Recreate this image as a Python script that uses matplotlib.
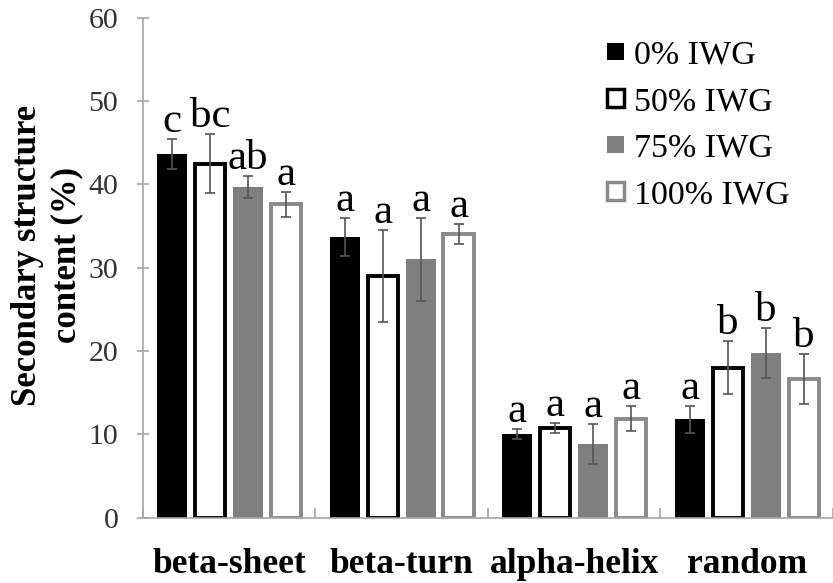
import numpy as np
import matplotlib
matplotlib.use('Agg')
import matplotlib.pyplot as plt
from matplotlib.patches import Patch

# ---- data ----
categories = ['beta-sheet', 'beta-turn', 'alpha-helix', 'random']
series = ['0% IWG', '50% IWG', '75% IWG', '100% IWG']

v_0 = [43.7, 33.7, 10.1, 11.8]
v_50 = [42.5, 29.0, 10.8, 18.0]
v_75 = [39.7, 31.0, 8.9, 19.8]
v_100 = [37.6, 34.1, 11.9, 16.6]

e_0 = [1.8, 2.3, 0.6, 1.6]
e_50 = [3.5, 5.5, 0.6, 3.2]
e_75 = [1.3, 5.0, 2.4, 3.0]
e_100 = [1.5, 1.2, 1.5, 3.0]

let_0 = ['c', 'a', 'a', 'a']
let_50 = ['bc', 'a', 'a', 'b']
let_75 = ['ab', 'a', 'a', 'b']
let_100 = ['a', 'a', 'a', 'b']

values = [v_0, v_50, v_75, v_100]
errors = [e_0, e_50, e_75, e_100]
letters = [let_0, let_50, let_75, let_100]

# bar styles: (face, edge)
styles = [('black', 'black'), ('white', 'black'),
          ('#7f7f7f', '#7f7f7f'), ('white', '#8a8a8a')]

plt.rcParams['font.family'] = ['Liberation Serif', 'DejaVu Serif']

fig = plt.figure(figsize=(8.33, 5.83), dpi=100)
ax = fig.add_axes([0.1713, 0.112, 0.8287, 0.8576])

x = np.arange(len(categories))
offsets = [-0.33, -0.11, 0.11, 0.33]
width = 0.174

for i in range(4):
    face, edge = styles[i]
    lw = 0 if face == edge else 2.8
    ax.bar(x + offsets[i], values[i], width, color=face, edgecolor=edge,
           linewidth=lw, zorder=2)
    ax.errorbar(x + offsets[i], values[i], yerr=errors[i], fmt='none',
                ecolor='#555555', elinewidth=1.2, capsize=3.5, capthick=1.2,
                zorder=3)
    for j in range(len(categories)):
        ax.annotate(letters[i][j], (x[j] + offsets[i], values[i][j] + errors[i][j]),
                    xytext=(0, 5), textcoords='offset points',
                    ha='center', va='baseline', fontsize=31, color='black')

ax.set_xlim(-0.5, 3.5)
ax.set_ylim(0, 60)
ax.set_yticks(np.arange(0, 61, 10))
ax.set_xticks(x)
ax.set_xticklabels(categories, fontsize=25.5, fontweight='bold')
ax.set_xticks(np.arange(-0.5, 3.6, 1), minor=True)

for s in ['top', 'right']:
    ax.spines[s].set_visible(False)
for s in ['left', 'bottom']:
    ax.spines[s].set_color('#a6a6a6')
    ax.spines[s].set_linewidth(1.2)

ax.tick_params(axis='y', direction='inout', length=9, width=1.2,
               color='#a6a6a6', labelsize=21.5, labelcolor='#333333', pad=13)
ax.tick_params(axis='x', which='major', length=0, pad=22)
ax.tick_params(axis='x', which='minor', direction='in', length=7, width=1.2,
               color='#a6a6a6')

fig.text(47 / 833, 1 - 255 / 583, 'Secondary structure\ncontent (%)',
         rotation=90, ha='center', va='center', multialignment='center',
         fontsize=25, fontweight='bold', linespacing=1.25)

handles = [Patch(facecolor=f, edgecolor=e, linewidth=(0 if f == e else 2.5))
           for f, e in styles]
ax.legend(handles, series, loc='upper left', bbox_to_anchor=(0.672, 0.955),
          frameon=False, fontsize=24.5, borderpad=0, borderaxespad=0,
          handlelength=0.5, handleheight=0.42, handletextpad=0.3,
          labelspacing=0.47)

fig.savefig('out.png', dpi=100)
